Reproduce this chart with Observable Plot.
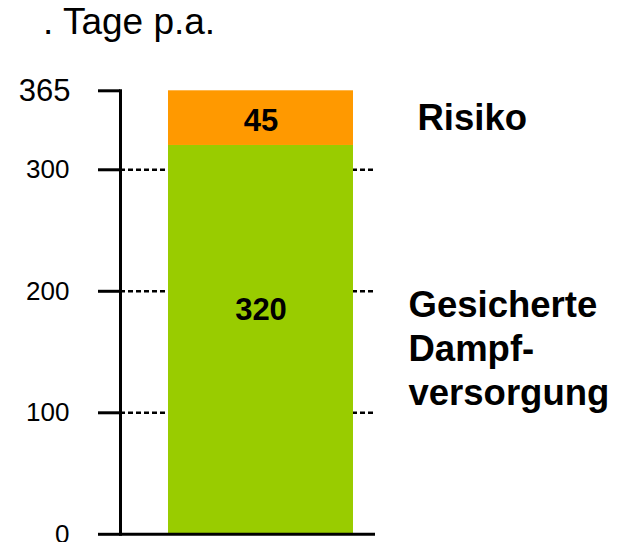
<!DOCTYPE html>
<html><head><meta charset="utf-8">
<script src="https://cdn.jsdelivr.net/npm/d3@7"></script>
<script src="https://cdn.jsdelivr.net/npm/@observablehq/plot@0.6"></script>
<style>
body{margin:0;background:#fff;font-family:Arial,"Liberation Sans",sans-serif;}
#title{height:60px;box-sizing:border-box;padding:1px 0 0 43px;font-size:37px;line-height:42px;color:#000;white-space:pre;}
</style></head><body>
<div id="title">. Tage p.a.</div>
<div id="chart"></div>
<script>
const category = "Tage p.a.";
const segments = ["Gesicherte Dampfversorgung", "Risiko"];
const values = [320, 45];
const segmentColors = ["#99CC00", "#FF9900"];
const segmentLabels = ["Gesicherte\nDampf-\nversorgung", "Risiko"];
const tickValues = [0, 100, 200, 300];
const topTick = [365];
const gridValues = [100, 200, 300];

const ends = d3.cumsum(values);
const rows = segments.map((s, i) => ({
  cat: category, segment: s, value: values[i], label: segmentLabels[i],
  y1: ends[i] - values[i], y2: ends[i], mid: ends[i] - values[i] / 2
}));
const font = "Arial, 'Liberation Sans', sans-serif";

const chart = Plot.plot({
  width: 617,
  height: 482,
  marginLeft: 120,
  marginRight: 242,
  marginTop: 30.3,
  marginBottom: 8.2,
  style: {fontFamily: font, fontSize: "26px", background: "white", color: "black", overflow: "visible"},
  x: {type: "band", domain: [category], paddingInner: 0.159, paddingOuter: 0.159, align: 0.686, axis: null},
  y: {domain: [0, 365], axis: null},
  color: {domain: segments, range: segmentColors},
  marks: [
    Plot.gridY(gridValues, {stroke: "#000", strokeOpacity: 1, strokeWidth: 2.5, strokeDasharray: "5,3"}),
    Plot.barY(rows, {x: "cat", y1: "y1", y2: "y2", fill: "segment"}),
    Plot.ruleY([0], {strokeWidth: 3}),
    Plot.frame({anchor: "left", strokeWidth: 3}),
    Plot.axisY(tickValues, {tickSize: 22, tickPadding: 29, fontSize: 26, strokeWidth: 3, fill: "#000"}),
    Plot.axisY(topTick, {tickSize: 22, tickPadding: 28, fontSize: 31, strokeWidth: 3, fill: "#000"}),
    Plot.text([rows[1]], {x: "cat", y: "mid", text: d => String(d.value), fontWeight: "bold", fontSize: 31, dy: 3}),
    Plot.text([rows[0]], {x: "cat", y: "mid", text: d => String(d.value), fontWeight: "bold", fontSize: 31, dy: -30}),
    Plot.text([rows[1]], {y: "mid", text: "label", frameAnchor: "right", textAnchor: "start", dx: 42, fontWeight: "bold", fontSize: 36.5}),
    Plot.text([rows[0]], {y: "mid", text: "label", frameAnchor: "right", textAnchor: "start", dx: 33, dy: 7, lineHeight: 1.2, fontWeight: "bold", fontSize: 36.5})
  ]
});
document.getElementById("chart").appendChild(chart);
</script>
</body></html>
